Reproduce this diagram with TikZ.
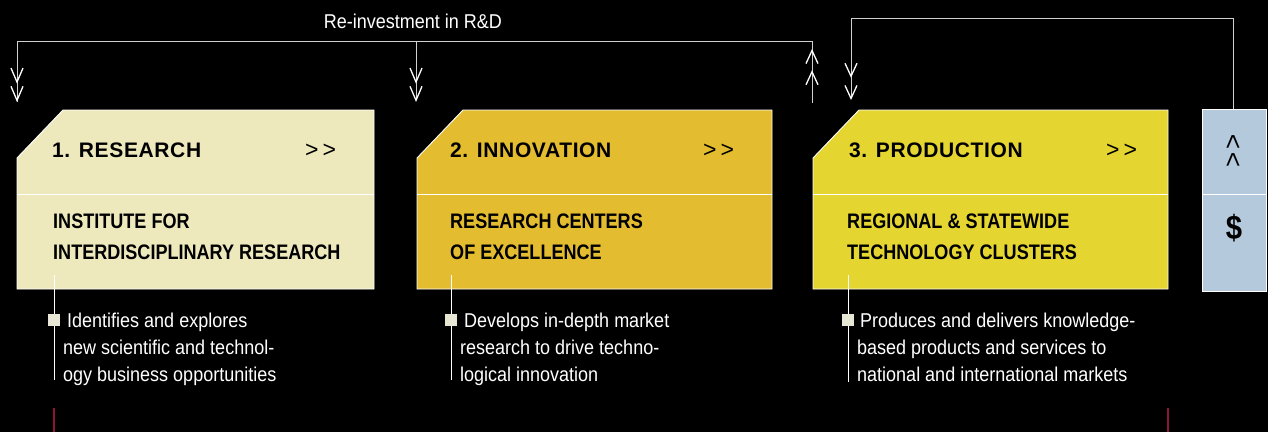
\documentclass[tikz,border=0pt]{standalone}
\usepackage{fontspec}
\setmainfont{Liberation Sans}
\newfontfamily\headfont[LetterSpace=3]{Liberation Sans}
\newfontfamily\condfont[FakeStretch=0.9]{Liberation Sans}
\newfontfamily\heavycond[FakeStretch=0.86]{Liberation Sans}
\usetikzlibrary{arrows.meta}

\definecolor{fillA}{HTML}{EEE9BC}
\definecolor{fillB}{HTML}{E4BC30}
\definecolor{fillC}{HTML}{E4D530}
\definecolor{fillD}{HTML}{B4C9DC}
\definecolor{edgegray}{HTML}{D0D0D0}
\definecolor{bulletcol}{HTML}{E8E6D4}
\definecolor{rulered}{HTML}{8E1538}

\tikzset{
  stagebox/.style={draw=white, line width=0.9pt},
  divider/.style={draw=white, line width=0.9pt},
  title/.style={anchor=base west, inner sep=0pt, font=\headfont\bfseries\fontsize{21}{24}\selectfont},
  more/.style={anchor=base west, inner sep=0pt, font=\fontsize{23}{25}\selectfont},
  caret/.style={anchor=center, inner sep=0pt, rotate=90, font=\fontsize{26}{28}\selectfont},
  subtitle/.style={anchor=base west, inner sep=0pt, align=left,
    font=\heavycond\bfseries\fontsize{21}{31}\selectfont},
  body/.style={anchor=base west, inner sep=0pt, align=left, text=white,
    font=\condfont\fontsize{20}{27}\selectfont},
  feed/.style={draw=edgegray, line width=0.9pt},
  tick/.style={draw=white, line width=0.9pt},
  bullet/.style={fill=bulletcol},
  redrule/.style={draw=rulered, line width=1.4pt},
  chevdown/.style={-{Straight Barb[length=14pt,width=12pt,line width=1.3pt,color=white,sep=2pt]
                    Straight Barb[length=14pt,width=12pt,line width=1.3pt,color=white]}},
  chevup/.style={-{Straight Barb[length=13pt,width=12pt,line width=1.3pt,color=white,sep=6pt]
                    Straight Barb[length=13pt,width=12pt,line width=1.3pt,color=white]}},
  chevloop/.style={-{Straight Barb[length=13pt,width=12pt,line width=1.3pt,color=white,sep=7pt]
                    Straight Barb[length=13pt,width=12pt,line width=1.3pt,color=white]}},
}

\begin{document}
\begin{tikzpicture}[x=1pt,y=-1pt]
\fill[black] (0,0) rectangle (1268,432);
\useasboundingbox (0,0) rectangle (1268,432);

% stage panels with clipped top-left corner
\path[stagebox, fill=fillA] (17,158) -- (63,110) -- (374,110) -- (374,289) -- (17,289) -- cycle;
\path[divider] (17,194) -- (374,194);
\path[stagebox, fill=fillB] (417,158) -- (463,110) -- (772,110) -- (772,289) -- (417,289) -- cycle;
\path[divider] (417,194) -- (772,194);
\path[stagebox, fill=fillC] (813,158) -- (859,110) -- (1168,110) -- (1168,289) -- (813,289) -- cycle;
\path[divider] (813,194) -- (1168,194);
\path[stagebox, fill=fillD] (1202,109) rectangle (1266,291);
\path[divider] (1202,194) -- (1266,194);

% stage headings
\node[title] (t1) at (52,157) {1. RESEARCH};
\node[more] (m1) at (305,157) {>\kern4pt>};
\node[title] (t2) at (450,157) {2. INNOVATION};
\node[more] (m2) at (703,157) {>\kern4pt>};
\node[title] (t3) at (849,157) {3. PRODUCTION};
\node[more] (m3) at (1106,157) {>\kern4pt>};

% institutions (base anchor sits on the last line)
\node[subtitle] (s1) at (53,259) {INSTITUTE FOR\\INTERDISCIPLINARY RESEARCH};
\node[subtitle] (s2) at (450,259) {RESEARCH CENTERS\\OF EXCELLENCE};
\node[subtitle] (s3) at (847,259) {REGIONAL \& STATEWIDE\\TECHNOLOGY CLUSTERS};

% returns panel
\node[caret] (up1) at (1234,142) {>};
\node[caret] (up2) at (1234,160) {>};
\node[font=\heavycond\bfseries\fontsize{34}{36}\selectfont, inner sep=0pt] (dollar) at (1234,228) {\$};

% descriptions with marker lines
\coordinate (d1a) at (54,275); \coordinate (d1b) at (54,380);
\coordinate (d2a) at (451,275); \coordinate (d2b) at (451,380);
\coordinate (d3a) at (848,275); \coordinate (d3b) at (848,382);
\draw[tick] (d1a) -- (d1b);
\draw[tick] (d2a) -- (d2b);
\draw[tick] (d3a) -- (d3b);
\fill[bullet] (48,314) rectangle (60,326);
\fill[bullet] (445,314) rectangle (457,326);
\fill[bullet] (842,314) rectangle (854,326);
\node[body] (b1) at (63,381) {\hspace*{4pt}Identifies and explores\\new scientific and technol-\\ogy business opportunities};
\node[body] (b2) at (460,381) {\hspace*{4pt}Develops in-depth market\\research to drive techno-\\logical innovation};
\node[body] (b3) at (857,381) {\hspace*{3pt}Produces and delivers knowledge-\\based products and services to\\national and international markets};

% re-investment loop
\node[text=white, font=\condfont\fontsize{20}{22}\selectfont, inner sep=0pt] (reinv) at (413,21) {Re-investment in R\&D};
\coordinate (src) at (812,103);
\coordinate (join) at (812,41);
\coordinate (in1) at (17,102);
\coordinate (in2) at (416,102);
\draw[feed] (src) -- (join) -| (in1);
\draw[feed, chevdown] (416,41) -- (in2);
\draw[feed, chevdown] (17,70) -- (in1);
\draw[feed, chevup] (src) -- (812,49);

% returns feed back into production
\coordinate (ret) at (1233,109);
\coordinate (in3) at (851,100);
\draw[feed, chevloop] (ret) |- (851,18) -- (in3);

% red rules at the foot
\coordinate (r1a) at (54,408); \coordinate (r1b) at (54,432);
\coordinate (r2a) at (1168,408); \coordinate (r2b) at (1168,432);
\draw[redrule] (r1a) -- (r1b);
\draw[redrule] (r2a) -- (r2b);
\end{tikzpicture}
\end{document}
